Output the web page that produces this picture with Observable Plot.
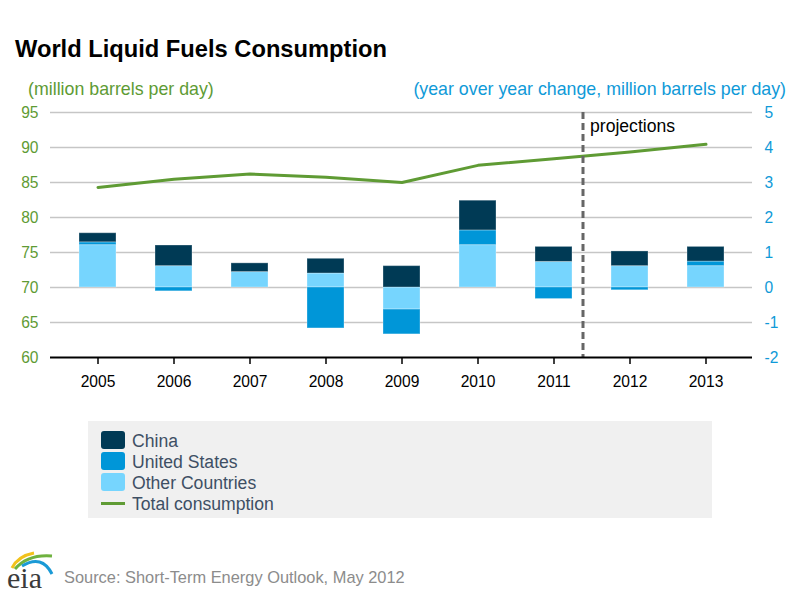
<!DOCTYPE html>
<html>
<head>
<meta charset="utf-8">
<script src="https://cdn.jsdelivr.net/npm/d3@7"></script>
<script src="https://cdn.jsdelivr.net/npm/@observablehq/plot@0.6"></script>
<style>
  html, body { margin: 0; padding: 0; background: #fff; }
  #wrap { position: relative; width: 800px; height: 595px; overflow: hidden; font-family: "Liberation Sans", Arial, sans-serif; }
  #wrap .t { position: absolute; line-height: 1; white-space: nowrap; }
  #chart { position: absolute; left: 0; top: 0; }
  #legend { position: absolute; left: 88px; top: 421px; width: 624px; height: 97px; background: #f0f0f0; }
  #legend .item { position: absolute; left: 13px; height: 21px; }
  #legend .sw { position: absolute; left: 0; width: 24px; height: 18px; border-radius: 3px; }
  #legend .ln { position: absolute; left: 0; width: 24px; height: 3px; }
  #legend .lab { position: absolute; left: 31px; font-size: 17.6px; line-height: 1; color: #3e4f64; white-space: nowrap; }
</style>
</head>
<body>
<div id="wrap">
  <div id="chart"></div>
  <div class="t" style="left:15px; top:38px; font-size:23.7px; font-weight:bold; color:#000;">World Liquid Fuels Consumption</div>
  <div class="t" style="left:28px; top:80.5px; font-size:17.8px; color:#5e9b34;">(million barrels per day)</div>
  <div class="t" style="right:14px; top:80.5px; font-size:17.8px; color:#0f9ad8;">(year over year change, million barrels per day)</div>
  <div id="legend"></div>
  <svg style="position:absolute; left:4px; top:548px;" width="54" height="46" viewBox="0 0 54 46">
    <path d="M8 20 Q 14 8 30 5" fill="none" stroke="#f2c21b" stroke-width="3"/>
    <path d="M11 21 Q 24 6 48 8" fill="none" stroke="#6fb23f" stroke-width="3"/>
    <path d="M18 18 Q 38 6 48 26" fill="none" stroke="#1a9ad6" stroke-width="3"/>
    <text x="3" y="40" font-family="'Liberation Serif', 'DejaVu Serif', serif" font-size="30" fill="#3b3b3b">eia</text>
  </svg>
  <div class="t" style="left:64px; top:569px; font-size:16.4px; color:#8c8c8c;">Source: Short-Term Energy Outlook, May 2012</div>
</div>
<script>
// ---- data ----
const years = ["2005", "2006", "2007", "2008", "2009", "2010", "2011", "2012", "2013"];
const seriesNames = ["Other Countries", "United States", "China"]; // stacking order, bottom up
const china = [0.26, 0.59, 0.25, 0.42, 0.61, 0.85, 0.43, 0.42, 0.42];
const unitedStates = [0.08, -0.11, 0.0, -1.17, -0.71, 0.42, -0.33, -0.08, 0.13];
const otherCountries = [1.21, 0.61, 0.44, 0.40, -0.63, 1.21, 0.73, 0.61, 0.61];
const totalConsumption = [84.3, 85.45, 86.2, 85.75, 85.0, 87.45, 88.4, 89.35, 90.45];
const changeTicks = [-2, -1, 0, 1, 2, 3, 4, 5];
const projectionStart = "2011";
const legendItems = ["China", "United States", "Other Countries", "Total consumption"];

// ---- styles ----
const colors = { "China": "#003a55", "United States": "#0096d8", "Other Countries": "#76d5fe" };
const green = "#5f9b34";
const blue = "#0f9ad8";

// consumption (left axis) <-> change (right axis)
const toChange = v => (v - 70) / 5;
const toConsumption = c => 70 + 5 * c;

const seriesValues = { "Other Countries": otherCountries, "United States": unitedStates, "China": china };
const stackData = seriesNames.flatMap(s => years.map((y, i) => ({ year: y, series: s, value: seriesValues[s][i] })));
const lineData = years.map((y, i) => ({ year: y, total: totalConsumption[i] }));

const chart = Plot.plot({
  width: 800,
  height: 400,
  marginTop: 112,
  marginBottom: 43,
  marginLeft: 50,
  marginRight: 48,
  style: { fontFamily: "'Liberation Sans', Arial, sans-serif", fontSize: "15.6px", background: "transparent" },
  x: { type: "band", domain: years, paddingInner: 0.51, paddingOuter: 0.255, insetLeft: 7, insetRight: 5, axis: null },
  y: { domain: [-2, 5], axis: null },
  color: { domain: Object.keys(colors), range: Object.values(colors) },
  marks: [
    Plot.ruleY(changeTicks.filter(d => d > -2), { stroke: "#c6c6c6", strokeWidth: 1.6 }),
    Plot.barY(stackData, Plot.stackY({ x: "year", y: "value", fill: "series", stroke: "#ffffff", strokeOpacity: 0.3, strokeWidth: 1 })),
    Plot.lineY(lineData, { x: "year", y: d => toChange(d.total), stroke: green, strokeWidth: 3 }),
    Plot.ruleX([projectionStart], { dx: 29, stroke: "#666666", strokeWidth: 3, strokeDasharray: "7,4" }),
    Plot.text(["projections"], { x: () => projectionStart, y: () => 5, dx: 36, dy: 14, text: d => d, textAnchor: "start", fontSize: 17.6, fill: "#000" }),
    Plot.ruleY([-2], { stroke: "#000", strokeWidth: 2 }),
    Plot.axisX({ ticks: years, tickSize: 7, tickPadding: 11, stroke: "#000", fill: "#000", strokeWidth: 1.5, label: null }),
    Plot.axisY({ anchor: "left", ticks: changeTicks, tickFormat: d => String(toConsumption(d)), tickSize: 0, tickPadding: 12, color: green, label: null }),
    Plot.axisY({ anchor: "right", ticks: changeTicks, tickFormat: d => String(d), tickSize: 0, tickPadding: 12, color: blue, label: null })
  ]
});
document.getElementById("chart").appendChild(chart);

// ---- legend ----
const legend = document.getElementById("legend");
legendItems.forEach((name, i) => {
  const item = document.createElement("div");
  item.className = "item";
  item.style.top = (10 + 21 * i) + "px";
  const mark = document.createElement("div");
  if (colors[name]) {
    mark.className = "sw";
    mark.style.top = "0px";
    mark.style.background = colors[name];
  } else {
    mark.className = "ln";
    mark.style.top = "8px";
    mark.style.background = green;
  }
  const lab = document.createElement("div");
  lab.className = "lab";
  lab.style.top = "1.5px";
  lab.textContent = name;
  item.appendChild(mark);
  item.appendChild(lab);
  legend.appendChild(item);
});
</script>
</body>
</html>
